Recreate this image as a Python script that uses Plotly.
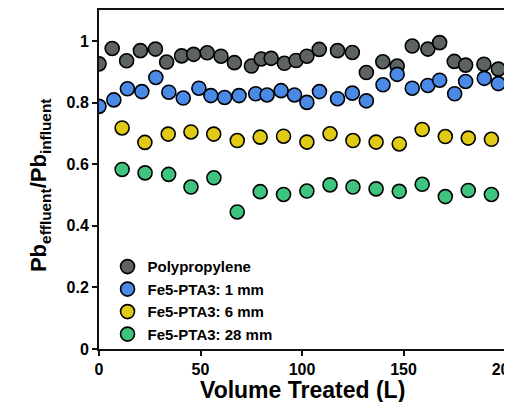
import plotly.graph_objects as go

# ---- data ----
vol_pp = [0, 6.5, 13.6, 20.4, 27.8, 33.3, 40.7, 46.6, 53.3, 60.1, 66.7, 75.1, 79.9, 84.8, 91.3,
          97.1, 102.4, 108.5, 117.5, 124.8, 131.7, 139.8, 146.9, 154.3, 162.0, 167.8, 175.0,
          180.6, 189.6, 196.7]
ratio_pp = [0.926, 0.976, 0.936, 0.969, 0.974, 0.932, 0.952, 0.957, 0.962, 0.951, 0.930, 0.919,
            0.942, 0.944, 0.928, 0.937, 0.951, 0.973, 0.969, 0.963, 0.898, 0.933, 0.919, 0.984,
            0.974, 0.995, 0.934, 0.922, 0.925, 0.909]

vol_1mm = [0, 7.3, 14.0, 21.1, 28.0, 34.4, 41.5, 49.2, 55.1, 61.9, 69.0, 77.2, 82.8, 89.7, 96.3,
           102.4, 108.6, 117.5, 124.8, 131.7, 139.9, 146.9, 154.3, 162.0, 167.8, 175.2, 180.6,
           189.8, 196.7]
ratio_1mm = [0.788, 0.809, 0.845, 0.836, 0.882, 0.834, 0.815, 0.847, 0.823, 0.817, 0.823, 0.829,
             0.825, 0.839, 0.825, 0.801, 0.836, 0.813, 0.831, 0.806, 0.858, 0.892, 0.847, 0.856,
             0.873, 0.829, 0.869, 0.879, 0.862]

vol_6mm = [11.4, 22.6, 34.1, 45.3, 56.5, 68.1, 79.4, 90.9, 102.4, 113.8, 125.1, 136.5, 147.9,
           159.2, 170.6, 181.9, 193.3]
ratio_6mm = [0.718, 0.671, 0.698, 0.705, 0.698, 0.677, 0.688, 0.691, 0.672, 0.699, 0.677, 0.672,
             0.666, 0.713, 0.690, 0.685, 0.681]

vol_28mm = [11.4, 22.7, 34.3, 45.3, 56.6, 68.1, 79.4, 90.9, 102.4, 113.8, 125.1, 136.5, 147.9,
            159.2, 170.6, 181.9, 193.3]
ratio_28mm = [0.583, 0.572, 0.567, 0.526, 0.556, 0.445, 0.511, 0.502, 0.513, 0.533, 0.526, 0.520,
              0.512, 0.535, 0.495, 0.515, 0.502]

series_names = ["Polypropylene", "Fe5-PTA3: 1 mm", "Fe5-PTA3: 6 mm", "Fe5-PTA3: 28 mm"]
series_colors = ["#5d6363", "#4a89e6", "#e0ca16", "#3ec47f"]

x_ticks = [0, 50, 100, 150, 200]
y_ticks = [0, 0.2, 0.4, 0.6, 0.8, 1]
y_tick_text = ["0", "0.2", "0.4", "0.6", "0.8", "1"]

FONT = "Arial, Liberation Sans, sans-serif"

fig = go.Figure()
for xs, ys, name, col in zip([vol_pp, vol_1mm, vol_6mm, vol_28mm],
                             [ratio_pp, ratio_1mm, ratio_6mm, ratio_28mm],
                             series_names, series_colors):
    fig.add_trace(go.Scatter(
        x=xs, y=ys, mode="markers", name=name,
        marker=dict(size=14, color=col, line=dict(color="black", width=1.6)),
    ))

axis_common = dict(
    showgrid=False, zeroline=False, showline=True, linecolor="#111", linewidth=2,
    mirror=True, ticks="outside", ticklen=5, tickwidth=1.5, tickcolor="#111",
    tickfont=dict(family=FONT, size=16, color="black", weight="bold"),
)

# the page body adds an 8px offset; margins compensate for it
fig.update_layout(
    width=512, height=402,
    margin=dict(l=91, r=15, t=0, b=61),
    paper_bgcolor="white", plot_bgcolor="white",
    showlegend=True,
    legend=dict(
        x=0.021, y=0.291, xanchor="left", yanchor="top",
        bgcolor="rgba(0,0,0,0)",
        font=dict(family=FONT, size=15, color="black", weight="bold"),
    ),
    xaxis=dict(range=[0, 200], tickvals=x_ticks, **axis_common),
    yaxis=dict(range=[0, 1.101], tickvals=y_ticks, ticktext=y_tick_text, **axis_common),
    annotations=[
        dict(text="<b>Volume Treated (L)</b>", xref="paper", yref="paper",
             x=0.5, y=-0.120, xanchor="center", yanchor="middle", showarrow=False,
             font=dict(family=FONT, size=23, color="black")),
        dict(text="<b>Pb<sub>effluent</sub>/Pb<sub>influent</sub></b>", xref="paper", yref="paper",
             x=-0.145, y=0.484, xanchor="center", yanchor="middle", showarrow=False,
             textangle=-90, font=dict(family=FONT, size=22, color="black")),
    ],
)

fig.write_html("out.html")
